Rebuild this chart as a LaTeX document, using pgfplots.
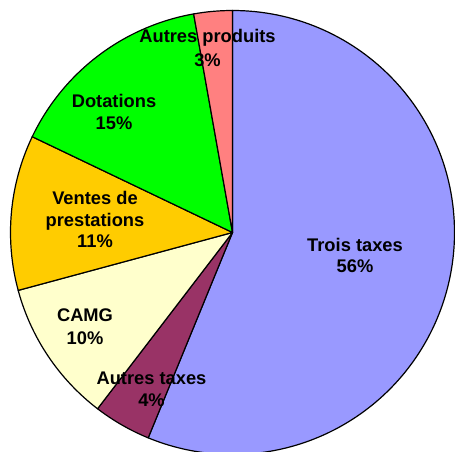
\documentclass[border=0pt]{standalone}
\usepackage{pgfplots}
\pgfplotsset{compat=1.18}
\usepackage{fontspec}
\setmainfont{Liberation Sans}
\definecolor{cTrois}{HTML}{9999FF}
\definecolor{cAutTax}{HTML}{993366}
\definecolor{cCAMG}{HTML}{FFFFCC}
\definecolor{cVentes}{HTML}{FFCC00}
\definecolor{cDot}{HTML}{00FF00}
\definecolor{cAutProd}{HTML}{FF8080}
% slice: colour, cumulative percent at start, cumulative percent at end
\newcommand\slice[3]{%
  \filldraw[fill=#1, draw=black, line width=1.2pt, line join=round]
    (axis cs:232.5,219.5) -- ++({90-3.6*#2}:222pt)
    arc[start angle={90-3.6*#2}, end angle={90-3.6*#3}, radius=222pt] -- cycle;}
\newcommand\lab[3]{\node[anchor=base, inner sep=0pt, font=\fontsize{18.3}{21}\selectfont\bfseries] at (axis cs:#1,#2) {#3};}
\begin{document}
\begin{tikzpicture}
\begin{axis}[width=455pt, height=452pt, scale only axis,
  xmin=0, xmax=455, ymin=0, ymax=452, hide axis, clip=true]
% percentages: Trois taxes 56.2, Autres taxes 4.2, CAMG 10.4,
% Ventes de prestations 11.3, Dotations 15.1, Autres produits 2.8
\slice{cTrois}{0}{56.2}
\slice{cAutTax}{56.2}{60.4}
\slice{cCAMG}{60.4}{70.8}
\slice{cVentes}{70.8}{82.1}
\slice{cDot}{82.1}{97.2}
\slice{cAutProd}{97.2}{100}
% labels (x, baseline y measured from bottom)
\lab{207.5}{409}{Autres produits}
\lab{207.5}{385}{3\%}
\lab{114}{344}{Dotations}
\lab{114}{322}{15\%}
\lab{95}{247}{Ventes de}
\lab{95}{225.5}{prestations}
\lab{95}{204}{11\%}
\lab{355}{200}{Trois taxes}
\lab{355}{179}{56\%}
\lab{85}{130}{CAMG}
\lab{85}{107}{10\%}
\lab{151.5}{67}{Autres taxes}
\lab{151.5}{45}{4\%}
\end{axis}
\pgfresetboundingbox
\path (current axis.south west) rectangle (current axis.north east);
\end{tikzpicture}
\end{document}
